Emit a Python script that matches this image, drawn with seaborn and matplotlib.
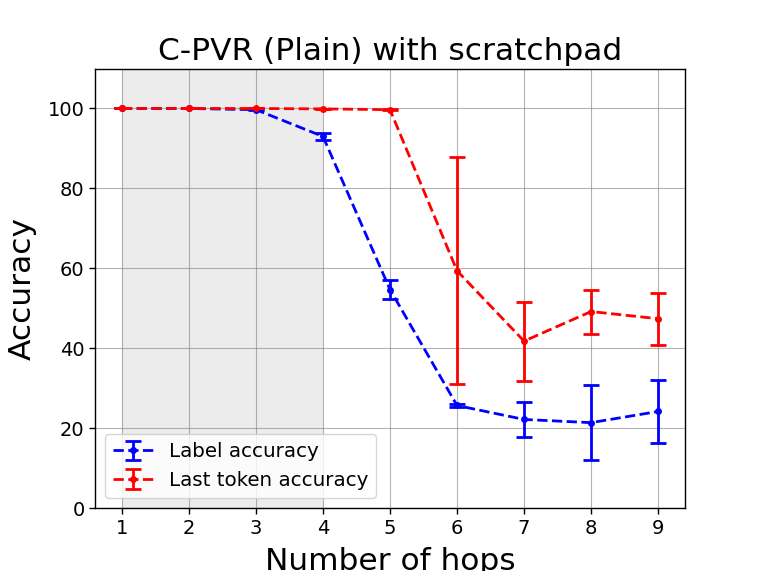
import numpy as np
import pandas as pd
import matplotlib
matplotlib.use("Agg")
import matplotlib.pyplot as plt
import seaborn as sns
from matplotlib.legend_handler import HandlerTuple

hops = [1, 2, 3, 4, 5, 6, 7, 8, 9]

label_acc = [100.0, 100.0, 99.7, 93.0, 54.7, 25.7, 22.2, 21.4, 24.2]
label_err = [0.0, 0.0, 0.1, 0.8, 2.4, 0.4, 4.4, 9.3, 7.9]

last_acc = [100.0, 100.0, 100.0, 99.9, 99.7, 59.4, 41.8, 49.2, 47.4]
last_err = [0.0, 0.0, 0.0, 0.0, 0.1, 28.4, 9.9, 5.5, 6.5]

series_names = ["Label accuracy", "Last token accuracy"]
colors = ["blue", "red"]

df = pd.DataFrame({
    "hops": hops * 2,
    "acc": label_acc + last_acc,
    "err": label_err + last_err,
    "series": [series_names[0]] * len(hops) + [series_names[1]] * len(hops),
})

sns.set_style("white")
plt.rcParams["font.family"] = ["DejaVu Sans"]
plt.rcParams.update({"text.color": "black", "axes.labelcolor": "black",
                     "xtick.color": "black", "ytick.color": "black"})

fig, ax = plt.subplots(figsize=(7.61, 5.71), dpi=100)

# shaded "training" range
ax.axvspan(1, 4, color="gray", alpha=0.15, lw=0, zorder=0)

handles = []
for name, col in zip(series_names, colors):
    sub = df[df["series"] == name]
    sns.lineplot(data=sub, x="hops", y="acc", ax=ax, color=col, linestyle="--",
                 linewidth=2, marker="o", markersize=5, markeredgewidth=0,
                 legend=False, errorbar=None)
    line = ax.lines[-1]
    eb = ax.errorbar(sub["hops"], sub["acc"], yerr=sub["err"], fmt="none",
                     ecolor=col, elinewidth=2, capsize=6, capthick=2)
    handles.append((line, eb))

ax.set_xlim(0.6, 9.4)
ax.set_ylim(0, 110)
ax.set_xticks(hops)
ax.set_yticks([0, 20, 40, 60, 80, 100])
ax.tick_params(axis="both", labelsize=14, length=4, width=1, bottom=True, left=True)
ax.grid(True, color="#808080", alpha=0.6, linewidth=0.8)
for sp in ax.spines.values():
    sp.set_color("black")
    sp.set_linewidth(1)

ax.set_title("C-PVR (Plain) with scratchpad", fontsize=22.5)
ax.set_xlabel("Number of hops", fontsize=22.5, labelpad=7)
ax.set_ylabel("Accuracy", fontsize=22.5, labelpad=8)

ax.legend(handles, series_names, loc="lower left", fontsize=14.3,
          handler_map={tuple: HandlerTuple(ndivide=1)})

fig.subplots_adjust(left=0.125, right=0.9, top=0.88, bottom=0.11)
fig.savefig("out.png", dpi=100)
